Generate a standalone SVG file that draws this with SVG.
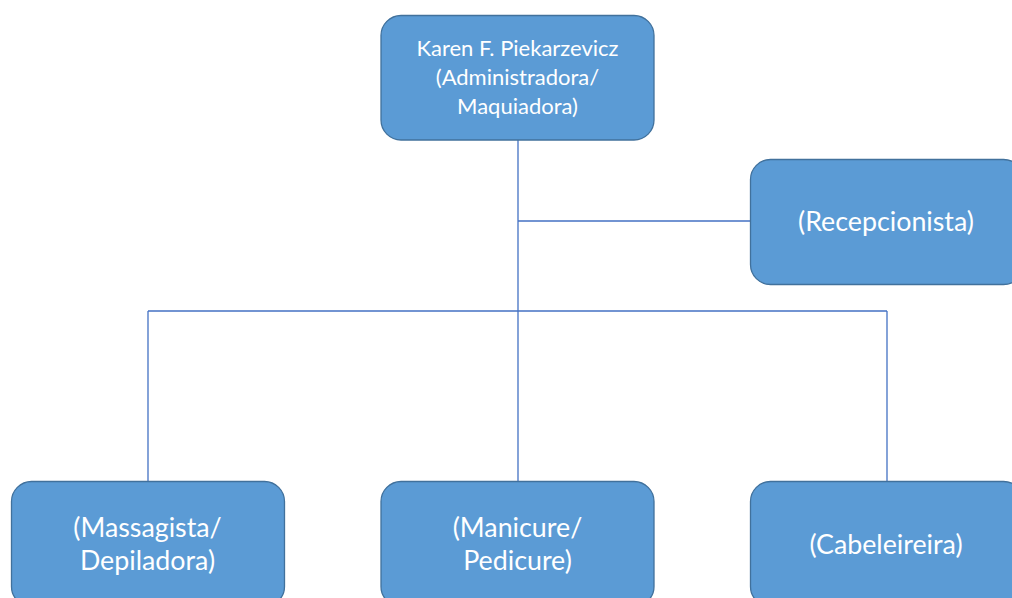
<svg xmlns="http://www.w3.org/2000/svg" width="1012" height="598" viewBox="0 0 1012 598">
<style>
.box{fill:#5B9BD5;stroke:#41719C;stroke-width:1.3}
.t{fill:#FFFFFF;font-family:Lato,"Open Sans","Liberation Sans",sans-serif;text-anchor:middle;dominant-baseline:central}
.s{font-size:22px}
.b{font-size:26.8px}
.c{fill:none;stroke:#4472C4;stroke-width:1.3}
</style>
<rect width="1012" height="598" fill="#FFFFFF"/>
<g id="connectors">
<path class="c" d="M518 140V481M518 221H750M148 311H887M148 311V481M887 311V481"/>
</g>
<g id="n-karen">
<rect class="box" x="381" y="15.5" width="273" height="124.5" rx="20"/>
<text class="t s" x="517.5" y="47">Karen F. Piekarzevicz</text>
<text class="t s" x="517.5" y="76">(Administradora/</text>
<text class="t s" x="517.5" y="105">Maquiadora)</text>
</g>
<g id="n-recepcionista">
<rect class="box" x="750.5" y="159.5" width="273" height="125" rx="20"/>
<text class="t b" x="886" y="221">(Recepcionista)</text>
</g>
<g id="n-massagista">
<rect class="box" x="11.5" y="481.5" width="273" height="125" rx="20"/>
<text class="t b" x="147.5" y="527">(Massagista/</text>
<text class="t b" x="147.5" y="560">Depiladora)</text>
</g>
<g id="n-manicure">
<rect class="box" x="381" y="481.5" width="273" height="125" rx="20"/>
<text class="t b" x="517.5" y="527">(Manicure/</text>
<text class="t b" x="517.5" y="560">Pedicure)</text>
</g>
<g id="n-cabeleireira">
<rect class="box" x="750.5" y="481.5" width="273" height="125" rx="20"/>
<text class="t b" x="886" y="544">(Cabeleireira)</text>
</g>
</svg>
